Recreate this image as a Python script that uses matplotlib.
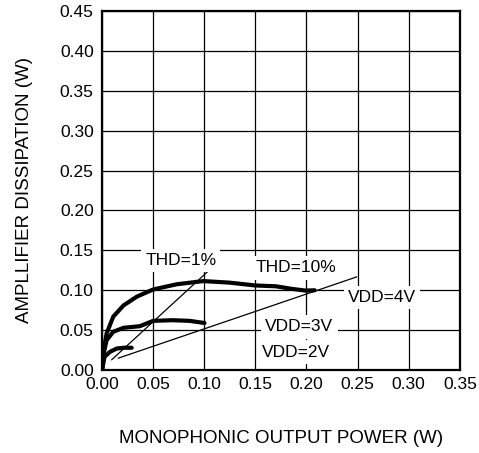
import numpy as np
import matplotlib.pyplot as plt

plt.rcParams["font.family"] = ["Liberation Sans", "DejaVu Sans"]

# VDD curves: output power (W) vs dissipation (W)
vdd4_x = [0.0, 0.001, 0.0045, 0.011, 0.021, 0.034, 0.050, 0.073, 0.099, 0.1245, 0.150, 0.170, 0.186, 0.199, 0.208]
vdd4_y = [0.0, 0.021, 0.046, 0.067, 0.081, 0.092, 0.101, 0.1075, 0.1115, 0.1096, 0.106, 0.105, 0.1017, 0.0996, 0.100]

vdd3_x = [0.0, 0.0015, 0.0045, 0.011, 0.021, 0.037, 0.050, 0.069, 0.0856, 0.1002]
vdd3_y = [0.0, 0.020, 0.0375, 0.048, 0.053, 0.055, 0.0617, 0.0625, 0.0617, 0.059]

vdd2_x = [0.0, 0.0025, 0.0078, 0.0143, 0.021, 0.029]
vdd2_y = [0.0, 0.0167, 0.0229, 0.027, 0.028, 0.028]

# THD limit lines
thd1_x = [0.0095, 0.1115]
thd1_y = [0.013, 0.133]
thd10_x = [0.016, 0.249]
thd10_y = [0.015, 0.1167]

xticks = np.arange(0, 0.351, 0.05)
yticks = np.arange(0, 0.451, 0.05)

fig = plt.figure(figsize=(4.79, 4.53), dpi=100)
ax = fig.add_axes([0.213, 0.183, 0.747, 0.793])

ax.set_xlim(0, 0.35)
ax.set_ylim(0, 0.45)
ax.set_xticks(xticks)
ax.set_yticks(yticks)
ax.set_xticklabels([f"{v:.2f}" for v in xticks])
ax.set_yticklabels([f"{v:.2f}" for v in yticks])
ax.tick_params(axis="y", length=0, labelsize=12.5, pad=6)
ax.tick_params(axis="x", length=0, labelsize=12.5, pad=5)
ax.grid(True, color="black", linewidth=0.9)
ax.set_axisbelow(True)
for s in ax.spines.values():
    s.set_linewidth(1.6)

ax.plot(vdd4_x, vdd4_y, color="black", linewidth=3, solid_capstyle="round")
ax.plot(vdd3_x, vdd3_y, color="black", linewidth=3, solid_capstyle="round")
ax.plot(vdd2_x, vdd2_y, color="black", linewidth=3, solid_capstyle="round")
ax.plot(thd1_x, thd1_y, color="black", linewidth=0.9)
ax.plot(thd10_x, thd10_y, color="black", linewidth=0.9)

box = dict(facecolor="white", edgecolor="none", pad=3)
ax.text(0.077, 0.137, "THD=1%", fontsize=12.5, ha="center", va="center", bbox=box)
ax.text(0.19, 0.128, "THD=10%", fontsize=12.5, ha="center", va="center", bbox=box)
ax.text(0.274, 0.091, "VDD=4V", fontsize=12.5, ha="center", va="center", bbox=box)
ax.text(0.193, 0.054, "VDD=3V", fontsize=12.5, ha="center", va="center", bbox=box)
ax.text(0.19, 0.0225, "VDD=2V", fontsize=12.5, ha="center", va="center", bbox=box)

ax.set_xlabel("MONOPHONIC OUTPUT POWER (W)", fontsize=13.5, labelpad=27)
ax.set_ylabel("AMPLLIFIER DISSIPATION (W)", fontsize=13.5, labelpad=19)

fig.savefig("out.png", dpi=100)
